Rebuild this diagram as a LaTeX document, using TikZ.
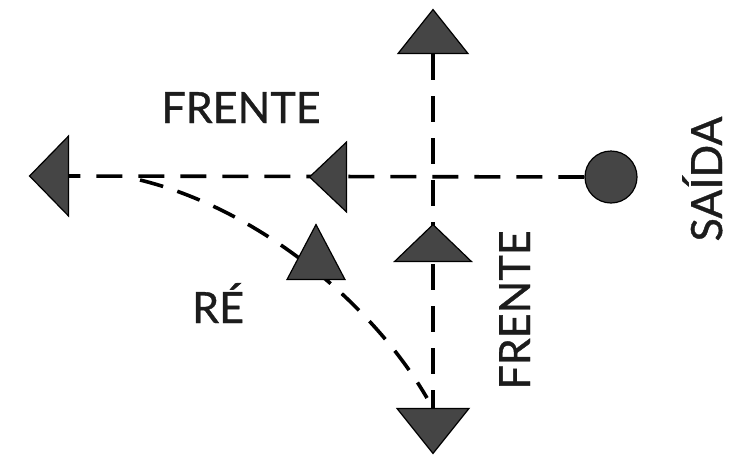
\documentclass[tikz,border=0pt]{standalone}
\usepackage{fontspec}
\setmainfont{Lato}
\newfontfamily\signfont{Lato}[FakeBold=0.9]
\usetikzlibrary{shapes.geometric,backgrounds}
\definecolor{markgray}{HTML}{454545}
\definecolor{inkgray}{HTML}{1C1C1C}

\begin{document}
\begin{tikzpicture}[x=1pt,y=1pt,
  marker/.style={isosceles triangle,isosceles triangle stretches,inner sep=0pt,
    fill=markgray,draw=black,line width=1.2pt,anchor=apex},
  route/.style={draw=black,line width=3.6pt,dash pattern=on 26pt off 16pt},
  label/.style={inner sep=0pt,text=inkgray,font=\signfont\fontsize{43}{48}\selectfont}]
\useasboundingbox (0,0) rectangle (733,-461);
\node [circle,fill=markgray,draw=black,line width=1.2pt,minimum size=52pt,inner sep=0pt] (start) at (611,-177) {};
\node [marker,shape border rotate=90,minimum width=70pt,minimum height=44pt] (top) at (433,-8) {};
\node [marker,shape border rotate=90,minimum width=77pt,minimum height=37pt] (up) at (433,-223) {};
\node [marker,shape border rotate=270,minimum width=72pt,minimum height=45pt] (bottom) at (433,-455) {};
\node [marker,shape border rotate=180,minimum width=80pt,minimum height=39pt] (left) at (28,-176) {};
\node [marker,shape border rotate=180,minimum width=70pt,minimum height=37pt] (mid) at (308,-177) {};
\node [marker,shape border rotate=88,minimum width=58pt,minimum height=55pt] (back) at (316,-223) {};
\coordinate (fork) at (140,-180);
\coordinate (end) at (427,-398);
\begin{scope}[on background layer]
  \draw [route] (start.west) -- (left.east);
  \draw [route] (top.south) -- (bottom.north);
  \draw [route,dash pattern=on 24pt off 15pt] (fork) .. controls (255,-208) and (370,-300) .. (end);
\end{scope}
\node [label,anchor=base] (front) at (241,-123) {FRENTE};
\node [label,anchor=base west] (rev) at (192,-323) {RÉ};
\node [label,anchor=base,rotate=90] (front2) at (530,-310) {FRENTE};
\node [label,anchor=base,rotate=90] (exit) at (722,-179) {SAÍDA};
\end{tikzpicture}
\end{document}
